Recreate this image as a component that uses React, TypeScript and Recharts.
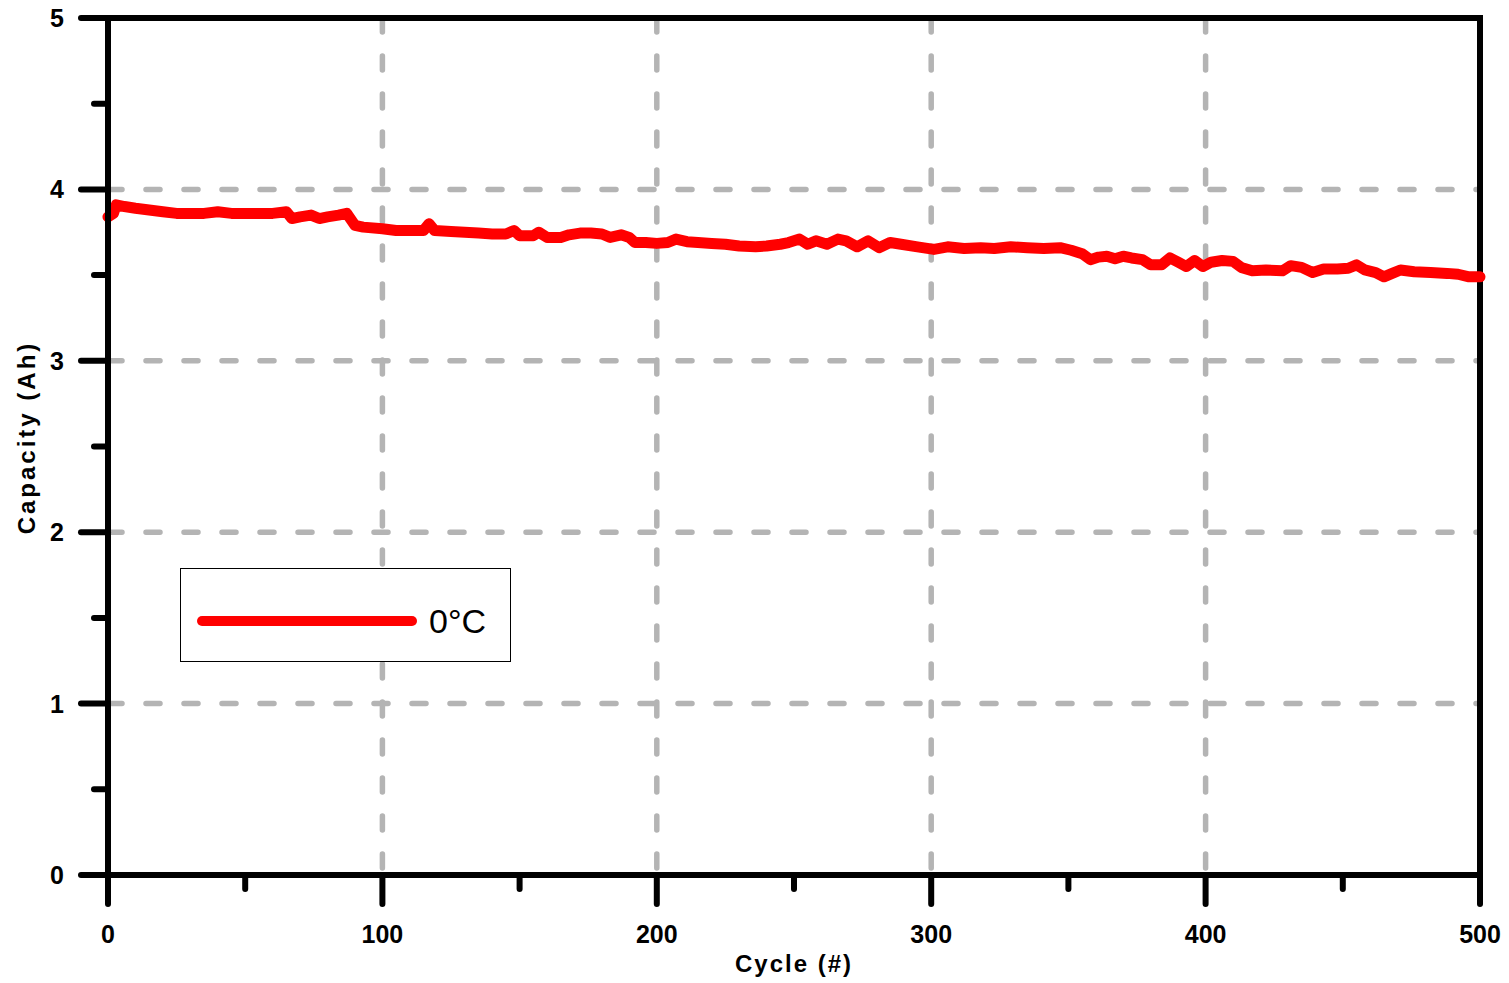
import React from 'react';
import {
  CartesianGrid,
  Legend,
  Line,
  LineChart,
  ReferenceLine,
  XAxis,
  YAxis,
} from 'recharts';

const cycles = [
  0, 2, 3, 6, 10, 15, 20, 25, 30, 35, 40, 45, 50, 55, 60, 65, 67, 70, 74, 77,
  80, 84, 87, 90, 93, 100, 105, 110, 115, 117, 119, 125, 130, 135, 140, 145, 148, 150, 155, 157,
  160, 165, 168, 172, 176, 180, 183, 187, 190, 192, 196, 200, 204, 207, 211, 215, 220, 225, 230, 236,
  240, 245, 248, 252, 255, 258, 262, 266, 269, 273, 277, 281, 285, 289, 295, 301, 306, 312, 318, 323,
  329, 335, 341, 347, 351, 355, 358, 361, 364, 367, 370, 373, 377, 380, 384, 387, 390, 393, 396, 399,
  402, 406, 410, 413, 417, 422, 428, 431, 435, 439, 443, 448, 452, 455, 458, 462, 465, 468, 471, 476,
  482, 488, 492, 496, 500,
];

const capacity = [
  3.84, 3.86, 3.91, 3.9, 3.89, 3.88, 3.87, 3.86, 3.86, 3.86, 3.87, 3.86, 3.86, 3.86, 3.86, 3.87, 3.83, 3.84, 3.85, 3.83,
  3.84, 3.85, 3.86, 3.79, 3.78, 3.77, 3.76, 3.76, 3.76, 3.8, 3.76, 3.755, 3.75, 3.745, 3.74, 3.74, 3.76, 3.73, 3.73, 3.75,
  3.72, 3.72, 3.735, 3.745, 3.745, 3.74, 3.72, 3.735, 3.72, 3.69, 3.69, 3.685, 3.69, 3.71, 3.695, 3.69, 3.685, 3.68, 3.67, 3.665,
  3.67, 3.68, 3.69, 3.71, 3.68, 3.7, 3.68, 3.71, 3.7, 3.665, 3.7, 3.66, 3.69, 3.68, 3.665, 3.65, 3.665, 3.655, 3.66, 3.655,
  3.665, 3.66, 3.655, 3.66, 3.645, 3.625, 3.59, 3.605, 3.61, 3.595, 3.61, 3.6, 3.59, 3.56, 3.56, 3.6, 3.575, 3.55, 3.585, 3.55,
  3.575, 3.585, 3.58, 3.545, 3.525, 3.53, 3.525, 3.555, 3.545, 3.515, 3.535, 3.535, 3.54, 3.56, 3.53, 3.515, 3.49, 3.51, 3.53, 3.52,
  3.515, 3.51, 3.505, 3.49, 3.49,
];

const xTicks = [0, 50, 100, 150, 200, 250, 300, 350, 400, 450, 500];
const yTicks = [0, 0.5, 1, 1.5, 2, 2.5, 3, 3.5, 4, 4.5, 5];
const xGrid = [100, 200, 300, 400];
const yGrid = [1, 2, 3, 4];

const seriesName = '0°C';

const data = cycles.map((c, i) => ({ cycle: c, capacity: capacity[i] }));

const FONT = '"Liberation Sans", Arial, sans-serif';

const YTick = ({ x, y, payload }: any) => {
  const major = Number.isInteger(payload.value);
  return (
    <g>
      <line
        x1={x - (major ? 27 : 14)}
        x2={x}
        y1={y}
        y2={y}
        stroke="#000"
        strokeWidth={6}
        strokeLinecap="round"
      />
      {major && (
        <text x={x - 44} y={y + 9} textAnchor="end" fontFamily={FONT} fontWeight="bold" fontSize={25} fill="#000">
          {payload.value}
        </text>
      )}
    </g>
  );
};

const XTick = ({ x, y, payload }: any) => {
  const major = payload.value % 100 === 0;
  return (
    <g>
      <line
        x1={x}
        x2={x}
        y1={y}
        y2={y + (major ? 29 : 14)}
        stroke="#000"
        strokeWidth={6}
        strokeLinecap="round"
      />
      {major && (
        <text x={x} y={y + 68} textAnchor="middle" fontFamily={FONT} fontWeight="bold" fontSize={25} fill="#000">
          {payload.value}
        </text>
      )}
    </g>
  );
};

const LegendBox = () => (
  <div
    style={{
      width: 331,
      height: 94,
      border: '1px solid #000',
      boxSizing: 'border-box',
      background: '#fff',
    }}
  >
    <svg width={329} height={92}>
      <line x1={21} x2={231} y1={52} y2={52} stroke="#ff0000" strokeWidth={10} strokeLinecap="round" />
      <text x={248} y={64} fontFamily={FONT} fontSize={34} fill="#000">
        {seriesName}
      </text>
    </svg>
  </div>
);

export default function App() {
  return (
    <div style={{ position: 'absolute', left: 0, top: 0, background: '#fff' }}>
      <LineChart
        width={1509}
        height={983}
        data={data}
        margin={{ top: 18, right: 29, bottom: 0, left: 0 }}
      >
        <CartesianGrid
          horizontalValues={yGrid}
          verticalValues={xGrid}
          stroke="#b4b4b4"
          strokeWidth={5.5}
          strokeDasharray="14 24"
          strokeLinecap="round"
        />
        <XAxis
          dataKey="cycle"
          type="number"
          domain={[0, 500]}
          ticks={xTicks}
          interval={0}
          height={108}
          tickSize={0}
          tickMargin={0}
          tickLine={false}
          tick={<XTick />}
          axisLine={{ stroke: '#000', strokeWidth: 6 }}
          label={{
            content: ({ viewBox }: any) => (
              <text
                x={viewBox.x + viewBox.width / 2}
                y={viewBox.y + 97}
                textAnchor="middle"
                fontFamily={FONT}
                fontWeight="bold"
                fontSize={24}
                letterSpacing={2}
                fill="#000"
              >
                Cycle (#)
              </text>
            ),
          }}
        />
        <YAxis
          type="number"
          domain={[0, 5]}
          ticks={yTicks}
          interval={0}
          width={108}
          tickSize={0}
          tickMargin={0}
          tickLine={false}
          tick={<YTick />}
          axisLine={{ stroke: '#000', strokeWidth: 6 }}
          label={{
            content: ({ viewBox }: any) => {
              const cx = 35;
              const cy = viewBox.y + viewBox.height / 2 - 9;
              return (
                <text
                  x={cx}
                  y={cy}
                  transform={`rotate(-90, ${cx}, ${cy})`}
                  textAnchor="middle"
                  fontFamily={FONT}
                  fontWeight="bold"
                  fontSize={24}
                  letterSpacing={3}
                  fill="#000"
                >
                  Capacity (Ah)
                </text>
              );
            },
          }}
        />
        <ReferenceLine y={5} stroke="#000" strokeWidth={6} strokeLinecap="square" />
        <ReferenceLine x={500} stroke="#000" strokeWidth={6} strokeLinecap="square" />
        <Legend
          layout="horizontal"
          verticalAlign="middle"
          align="center"
          content={<LegendBox />}
          wrapperStyle={{ left: 180, top: 568, width: 331, height: 94 }}
        />
        <Line
          type="linear"
          dataKey="capacity"
          name={seriesName}
          stroke="#ff0000"
          strokeWidth={11}
          strokeLinecap="round"
          strokeLinejoin="round"
          dot={false}
          isAnimationActive={false}
        />
      </LineChart>
    </div>
  );
}
